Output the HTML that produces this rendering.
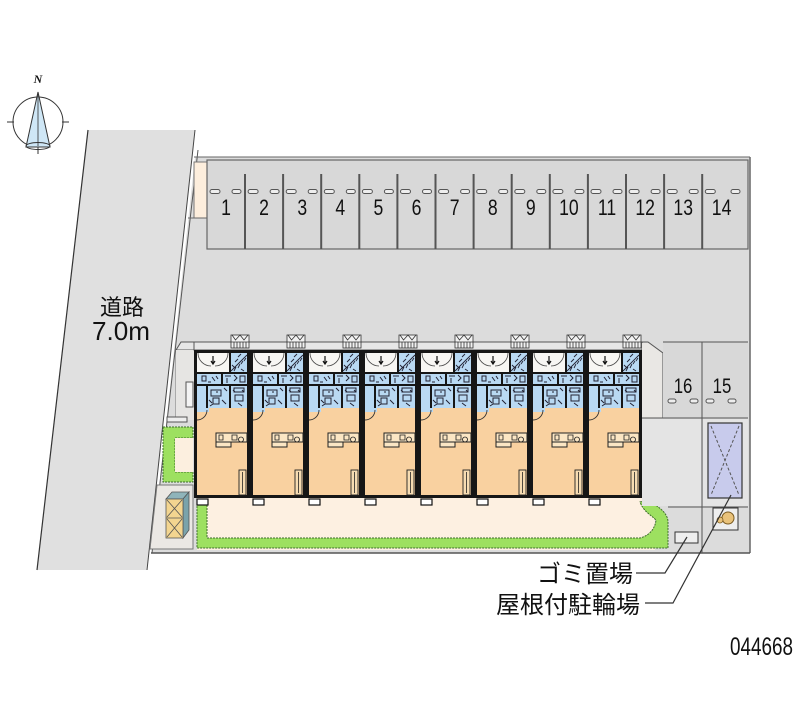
<!DOCTYPE html>
<html><head><meta charset="utf-8"><style>
html,body{margin:0;padding:0;background:#fff;}
svg{display:block;}
text{font-family:"Liberation Sans","Noto Sans CJK JP",sans-serif;fill:#111;}
</style></head><body>
<svg width="800" height="727" viewBox="0 0 800 727" xmlns="http://www.w3.org/2000/svg">
<defs>
<g id="unit">
<rect x="37" y="-5" width="18" height="13" fill="#f2f2f2" stroke="#333" stroke-width="0.8"/>
<path d="M38 -5L41.5 0L46 -5L50 0L54 -5M37 2H55M40 2V8M43 2V8M46 2V8M49 2V8M52 2V8" fill="none" stroke="#333" stroke-width="0.8"/>
<rect x="0" y="10" width="56" height="148" fill="#161616"/>
<rect x="3" y="13" width="32" height="19" fill="#f7f6f3"/>
<path d="M4 13A13 13 0 0 0 17 26M34 13A13 13 0 0 1 21 26" fill="none" stroke="#444" stroke-width="0.8"/>
<path d="M19 16V24M17 21L19 24L21 21" fill="none" stroke="#111" stroke-width="1.2"/>
<rect x="37" y="13" width="16" height="19" fill="#b9d9f3"/>
<path d="M37 31L53 15M40 31L42 27M44 28L46 24M47 24L49 21M50 21L52 18M41 22L44 19M44 17L47 14M38 25L41 28M47 29L50 31" stroke="#223" stroke-width="0.9" fill="none"/>
<rect x="3" y="34" width="24" height="10" fill="#b9d9f3"/>
<rect x="29" y="34" width="24" height="10" fill="#b9d9f3"/>
<path d="M8 36h4v5h-4zM18 37l3 4M22 36l2 3M31 36h6M33 38v5M40 35l3 3l-3 3M46 36h5v6h-5zM14 42h3" fill="none" stroke="#223" stroke-width="1"/>
<rect x="3" y="46" width="9" height="22" fill="#b9d9f3"/>
<rect x="14" y="46" width="21" height="22" fill="#b9d9f3"/>
<rect x="37" y="46" width="16" height="22" fill="#b9d9f3"/>
<path d="M17 50h10v6h-10zM19 58h6v6h-6zM15 60l3 3M28 60l4 4M40 48h10v4h-10zM41 55h8v6h-8zM44 63l4 3M39 50l2 2M48 50l2 2M16 66l3-2M30 48l3 3M22 52h2" fill="none" stroke="#223" stroke-width="1"/>
<rect x="3" y="68" width="50" height="87" fill="#f9d1a0"/>
<rect x="3" y="68" width="12" height="4" fill="#b9d9f3"/>
<path d="M3 80A10 10 0 0 0 13 70" fill="none" stroke="#333" stroke-width="0.9"/>
<rect x="22" y="93" width="31" height="9" fill="#fbe6c4" stroke="#222" stroke-width="1"/>
<rect x="22" y="102" width="15" height="5" fill="#fbe6c4" stroke="#222" stroke-width="1"/>
<path d="M25 95h4v5h-4zM38 95h5v5h-5zM47 97a2.5 2.5 0 1 0 .01 0" fill="none" stroke="#222" stroke-width="0.8"/>
<rect x="45" y="130" width="7" height="25" fill="#f7dcb2" stroke="#222" stroke-width="0.9"/>
<path d="M48.5 132v21" stroke="#222" stroke-width="0.8"/>
<rect x="3" y="159" width="11" height="6" fill="#fff" stroke="#111" stroke-width="1.2"/>
</g>
</defs>

<!-- compass -->
<text x="38" y="83" font-style="italic" font-weight="bold" font-size="12" text-anchor="middle" style="font-family:'Liberation Serif',serif">N</text>
<circle cx="38" cy="122" r="25" fill="none" stroke="#333" stroke-width="1"/>
<path d="M7 122H14M62 122H69M38 147V154" stroke="#333" stroke-width="1"/>
<path d="M38 92L26 147L50 147Z" fill="#cfe7f6" stroke="#333" stroke-width="1"/>
<path d="M38 92V146" stroke="#333" stroke-width="0.8"/>
<ellipse cx="38" cy="146" rx="12" ry="3.5" fill="none" stroke="#333" stroke-width="0.9"/>

<!-- road -->
<polygon points="88,130 195,130 147,570 37,570" fill="#e0e0e0"/>
<line x1="88" y1="130" x2="37" y2="570" stroke="#333" stroke-width="1.2"/>
<line x1="195" y1="130" x2="147" y2="570" stroke="#444" stroke-width="1"/>
<text x="122" y="315" font-size="22" text-anchor="middle">道路</text>
<text x="92" y="340" font-size="26" textLength="58" lengthAdjust="spacingAndGlyphs">7.0m</text>

<!-- lot -->
<polygon points="195,157 750,157 750,553 152,553" fill="#dcdcdc"/>
<line x1="198" y1="150" x2="152" y2="553" stroke="#555" stroke-width="1"/>
<line x1="194" y1="157" x2="750" y2="157" stroke="#666" stroke-width="1"/>
<line x1="750" y1="157" x2="750" y2="553" stroke="#666" stroke-width="1.5"/>
<line x1="151" y1="553" x2="750" y2="553" stroke="#555" stroke-width="1.5"/>

<!-- top-left small orange rect -->
<rect x="194" y="162" width="13" height="56" fill="#fdeedd" stroke="#777" stroke-width="1"/>
<line x1="188" y1="218" x2="207" y2="218" stroke="#666" stroke-width="1"/>

<!-- parking top -->
<rect x="207" y="160" width="541" height="89" fill="#d8d8d8" stroke="#666" stroke-width="1.2"/>
<g stroke="#555" stroke-width="2">
<line x1="245" y1="174" x2="245" y2="249"/><line x1="283.1" y1="174" x2="283.1" y2="249"/>
<line x1="321.2" y1="174" x2="321.2" y2="249"/><line x1="359.3" y1="174" x2="359.3" y2="249"/>
<line x1="397.4" y1="174" x2="397.4" y2="249"/><line x1="435.5" y1="174" x2="435.5" y2="249"/>
<line x1="473.6" y1="174" x2="473.6" y2="249"/><line x1="511.7" y1="174" x2="511.7" y2="249"/>
<line x1="549.8" y1="174" x2="549.8" y2="249"/><line x1="587.9" y1="174" x2="587.9" y2="249"/>
<line x1="626" y1="174" x2="626" y2="249"/><line x1="664.1" y1="174" x2="664.1" y2="249"/>
<line x1="702.2" y1="174" x2="702.2" y2="249"/>
</g>
<g fill="#eee" stroke="#555" stroke-width="1">
<rect x="210" y="189.5" width="10" height="4" rx="2"/><rect x="232" y="189.5" width="9" height="4" rx="2"/>
<rect x="248.1" y="189.5" width="10" height="4" rx="2"/><rect x="270.1" y="189.5" width="9" height="4" rx="2"/>
<rect x="286.2" y="189.5" width="10" height="4" rx="2"/><rect x="308.2" y="189.5" width="9" height="4" rx="2"/>
<rect x="324.3" y="189.5" width="10" height="4" rx="2"/><rect x="346.3" y="189.5" width="9" height="4" rx="2"/>
<rect x="362.4" y="189.5" width="10" height="4" rx="2"/><rect x="384.4" y="189.5" width="9" height="4" rx="2"/>
<rect x="400.5" y="189.5" width="10" height="4" rx="2"/><rect x="422.5" y="189.5" width="9" height="4" rx="2"/>
<rect x="438.6" y="189.5" width="10" height="4" rx="2"/><rect x="460.6" y="189.5" width="9" height="4" rx="2"/>
<rect x="476.7" y="189.5" width="10" height="4" rx="2"/><rect x="498.7" y="189.5" width="9" height="4" rx="2"/>
<rect x="514.8" y="189.5" width="10" height="4" rx="2"/><rect x="536.8" y="189.5" width="9" height="4" rx="2"/>
<rect x="552.9" y="189.5" width="10" height="4" rx="2"/><rect x="574.9" y="189.5" width="9" height="4" rx="2"/>
<rect x="591" y="189.5" width="10" height="4" rx="2"/><rect x="613" y="189.5" width="9" height="4" rx="2"/>
<rect x="629.1" y="189.5" width="10" height="4" rx="2"/><rect x="651.1" y="189.5" width="9" height="4" rx="2"/>
<rect x="667.2" y="189.5" width="10" height="4" rx="2"/><rect x="689.2" y="189.5" width="9" height="4" rx="2"/>
<rect x="705.3" y="189.5" width="10" height="4" rx="2"/><rect x="731" y="189.5" width="9" height="4" rx="2"/>
</g>
<g transform="scale(0.8,1)" font-size="22" text-anchor="middle">
<text x="282.5" y="215">1</text><text x="330.1" y="215">2</text><text x="377.8" y="215">3</text>
<text x="425.4" y="215">4</text><text x="473" y="215">5</text><text x="520.6" y="215">6</text>
<text x="568.3" y="215">7</text><text x="615.9" y="215">8</text><text x="663.5" y="215">9</text>
<text x="711.1" y="215">10</text><text x="758.8" y="215">11</text><text x="806.4" y="215">12</text>
<text x="854" y="215">13</text><text x="902" y="215">14</text>
</g>

<!-- left strip near building -->
<path d="M181 342H194V350H176Z" fill="#e6e6e6" stroke="#555" stroke-width="1"/>
<line x1="176" y1="350" x2="176" y2="420" stroke="#777" stroke-width="1"/>
<rect x="176" y="350" width="18" height="70" fill="#e6e5e3"/>
<rect x="186" y="382" width="7" height="25" fill="#f4f4f4" stroke="#555" stroke-width="1"/>
<rect x="167" y="417" width="20" height="5" fill="#eee" stroke="#555" stroke-width="1"/>

<!-- green hedge left C -->
<path d="M163 427H193V438H175V472H193V482H163Z" fill="#9de060" stroke="#3d6e2a" stroke-width="1" stroke-dasharray="2 1"/>
<rect x="175" y="438" width="18" height="34" fill="#fcefdf"/>

<!-- storage box area -->
<polygon points="157,485 193,485 193,549 150,549" fill="#ebe8e4" stroke="#777" stroke-width="1"/>
<polygon points="166,499 172,492 189,492 183,499" fill="#8fb4ba" stroke="#555" stroke-width="0.8"/>
<polygon points="183,499 189,492 189,530 183,538" fill="#7aa3ab" stroke="#555" stroke-width="0.8"/>
<rect x="166" y="499" width="17" height="39" fill="#f3d590" stroke="#555" stroke-width="0.8"/>
<path d="M167 500L182 517M182 500L167 517M167 519L182 537M182 519L167 537M166 518H183" stroke="#555" stroke-width="0.8"/>

<!-- gray band above building -->
<rect x="194" y="342" width="448" height="8" fill="#e6e6e6" stroke="#555" stroke-width="1"/>
<polygon points="642,343 648,343 662,353 662,418 642,418" fill="#e9e7e4"/>
<path d="M640 342H648L663 353V418" fill="none" stroke="#555" stroke-width="1"/>

<!-- walkway -->
<rect x="197" y="497" width="458" height="53" fill="#fdf0e1"/>
<path d="M197 500H207V538H640C648 536 655 530 656 520C650 514 644 512 640 502L647 500C656 505 668 512 668 522V548H197Z" fill="#9de060" stroke="#3d6e2a" stroke-width="1" stroke-dasharray="2 1"/>

<!-- units -->
<use href="#unit" x="194" y="340"/>
<use href="#unit" x="250" y="340"/>
<use href="#unit" x="306" y="340"/>
<use href="#unit" x="362" y="340"/>
<use href="#unit" x="418" y="340"/>
<use href="#unit" x="474" y="340"/>
<use href="#unit" x="530" y="340"/>
<use href="#unit" x="586" y="340"/>

<!-- right area -->
<rect x="663" y="342" width="85" height="76" fill="#d8d8d8"/>
<rect x="642" y="419" width="60" height="87" fill="#e4e4e4"/>
<rect x="703" y="419" width="45" height="87" fill="#e4e4e4"/>
<path d="M663 342H748M702 342V553M642 418H748M668 507H748" fill="none" stroke="#555" stroke-width="1"/>
<g transform="scale(0.8,1)" font-size="21" text-anchor="middle">
<text x="853.8" y="393">16</text><text x="902.5" y="393">15</text>
</g>
<g fill="#eee" stroke="#555" stroke-width="1">
<rect x="668" y="399" width="8" height="4" rx="2"/><rect x="690" y="399" width="8" height="4" rx="2"/>
<rect x="706" y="399" width="8" height="4" rx="2"/><rect x="728" y="399" width="8" height="4" rx="2"/>
</g>
<rect x="708" y="423" width="34" height="75" fill="#c8cbec" stroke="#333" stroke-width="1.2"/>
<path d="M711 426L739 495M739 426L711 495" stroke="#555" stroke-width="1" stroke-dasharray="3 2"/>
<rect x="713" y="508" width="25" height="22" fill="#eee" stroke="#333" stroke-width="1"/>
<circle cx="728" cy="518" r="6" fill="#e9c27a" stroke="#7a5a20" stroke-width="1"/>
<circle cx="720" cy="520" r="3" fill="#e9c27a" stroke="#7a5a20" stroke-width="0.8"/>
<rect x="675" y="532" width="23" height="11" fill="#eeeeee" stroke="#333" stroke-width="1"/>

<!-- leaders -->
<polyline points="636,573 665,573 687,537" fill="none" stroke="#333" stroke-width="1.2"/>
<polyline points="645,603 673,603 731,495" fill="none" stroke="#333" stroke-width="1.2"/>
<text x="633" y="582" font-size="24" text-anchor="end">ゴミ置場</text>
<text x="640" y="613" font-size="24" text-anchor="end">屋根付駐輪場</text>

<text x="730" y="655" font-size="25" textLength="63" lengthAdjust="spacingAndGlyphs">044668</text>
</svg>
</body></html>
